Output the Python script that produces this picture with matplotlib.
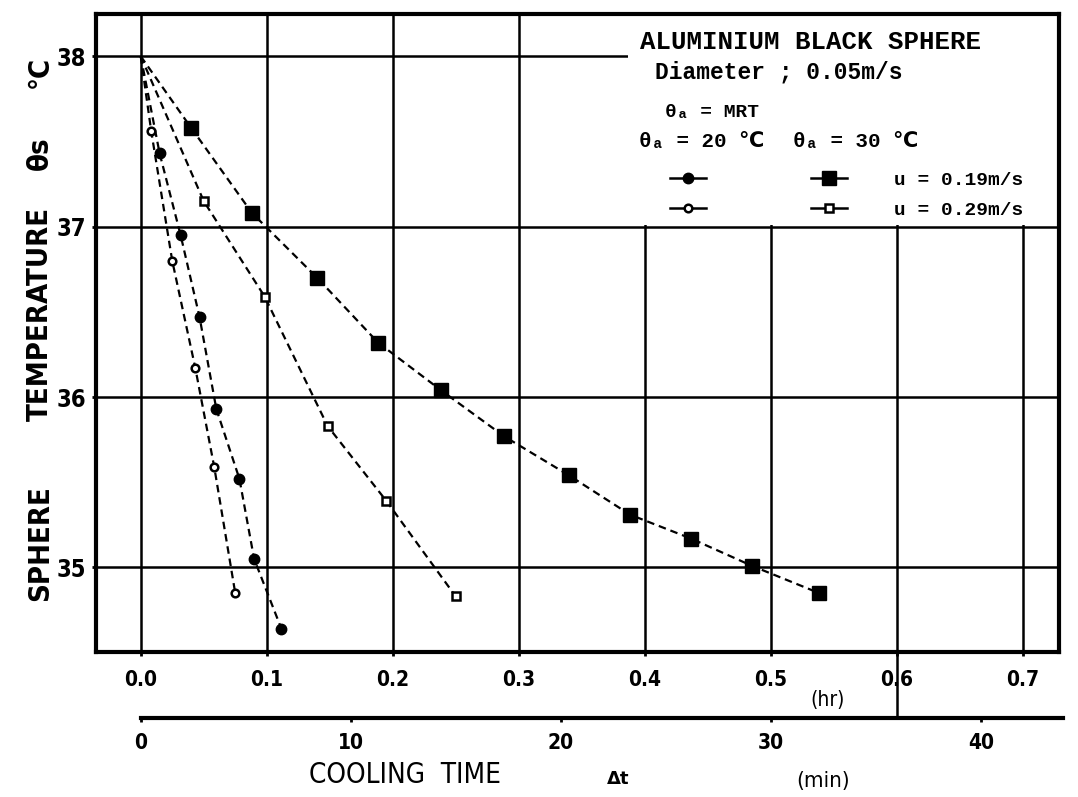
import numpy as np
import matplotlib
matplotlib.use("Agg")
import matplotlib.pyplot as plt
from matplotlib.font_manager import FontProperties
from matplotlib.lines import Line2D
from matplotlib.patches import Rectangle

# ===============================
# DATA  (cooling time in minutes, sphere temperature in deg C)
# ===============================
START_MIN = 0.0
START_TEMP = 38.0

# theta_a = 30 C, u = 0.19 m/s  (filled squares)
sq_fill_min = [2.4, 5.3, 8.4, 11.3, 14.3, 17.3, 20.4, 23.3, 26.2, 29.1, 32.3]
sq_fill_temp = [37.58, 37.08, 36.70, 36.32, 36.04, 35.77, 35.54, 35.31, 35.17, 35.01, 34.85]

# theta_a = 30 C, u = 0.29 m/s  (open squares)
sq_open_min = [3.0, 5.9, 8.9, 11.7, 15.0]
sq_open_temp = [37.15, 36.59, 35.83, 35.39, 34.83]

# theta_a = 20 C, u = 0.19 m/s  (filled circles)
ci_fill_min = [0.9, 1.9, 2.8, 3.6, 4.7, 5.4, 6.7]
ci_fill_temp = [37.43, 36.95, 36.47, 35.93, 35.52, 35.05, 34.64]

# theta_a = 20 C, u = 0.29 m/s  (open circles)
ci_open_min = [0.5, 1.5, 2.6, 3.5, 4.5]
ci_open_temp = [37.56, 36.80, 36.17, 35.59, 34.85]

hr_ticks = [0.0, 0.1, 0.2, 0.3, 0.4, 0.5, 0.6, 0.7]
temp_ticks = [35, 36, 37, 38]
min_ticks = [0, 10, 20, 30, 40]

# ===============================
# FIGURE
# ===============================
W, H = 1078, 797
fig = plt.figure(figsize=(W / 100, H / 100), dpi=100)
ax = fig.add_axes([96 / W, 1 - 652 / H, (1059 - 96) / W, (652 - 14) / H])

ax.set_xlim(-0.0355, 0.7288)
ax.set_ylim(34.504, 38.248)

ax.set_xticks(hr_ticks)
ax.set_xticklabels([f"{t:.1f}" for t in hr_ticks])
ax.set_yticks(temp_ticks)
ax.set_yticklabels([str(t) for t in temp_ticks])

ax.grid(True, color="black", linewidth=1.8)
ax.set_axisbelow(True)
for s in ax.spines.values():
    s.set_linewidth(3)

tick_font = dict(family="DejaVu Sans", weight="bold", stretch="condensed")
ax.tick_params(axis="x", length=3, width=2, pad=10, labelsize=15)
ax.tick_params(axis="y", length=3, width=2, pad=4, labelsize=17)
for lbl in ax.get_xticklabels() + ax.get_yticklabels():
    lbl.set_fontproperties(FontProperties(**tick_font, size=lbl.get_fontsize()))

# white panel behind the key, hiding the grid
ax.add_patch(Rectangle((0.387, 37.008), 0.7288 - 0.387, 38.248 - 37.008,
                       facecolor="white", edgecolor="none", zorder=1))

# ===============================
# SERIES
# ===============================
line_kw = dict(color="black", linewidth=1.6, linestyle=(0, (3.4, 2.2)),
               markevery=slice(1, None), zorder=3)

styles = {
    "ci_fill": dict(marker="o", markersize=7.5, markerfacecolor="black", markeredgecolor="black"),
    "ci_open": dict(marker="o", markersize=5.5, markerfacecolor="white", markeredgecolor="black",
                    markeredgewidth=1.8),
    "sq_fill": dict(marker="s", markersize=10, markerfacecolor="black", markeredgecolor="black"),
    "sq_open": dict(marker="s", markersize=6, markerfacecolor="white", markeredgecolor="black",
                    markeredgewidth=1.8),
}

series = [
    (ci_fill_min, ci_fill_temp, "ci_fill"),
    (ci_open_min, ci_open_temp, "ci_open"),
    (sq_fill_min, sq_fill_temp, "sq_fill"),
    (sq_open_min, sq_open_temp, "sq_open"),
]
for mins, temps, key in series:
    x = np.array([START_MIN] + mins) / 60.0
    y = np.array([START_TEMP] + temps)
    ax.plot(x, y, **line_kw, **styles[key])

# ===============================
# KEY
# ===============================
mono = ["Liberation Mono", "DejaVu Sans"]
fig.text(640 / W, 1 - 42 / H, "ALUMINIUM BLACK SPHERE", family=mono, weight="bold",
         fontsize=18.5, va="center", ha="left")
fig.text(655 / W, 1 - 72 / H, "Diameter ; 0.05m/s", family=mono, weight="bold",
         fontsize=16.5, va="center", ha="left")
fig.text(665 / W, 1 - 113 / H, "θₐ = MRT", family=mono, weight="bold",
         fontsize=14, va="center", ha="left")
fig.text(639 / W, 1 - 142 / H, "θₐ = 20 ℃", family=mono, weight="bold",
         fontsize=15, va="center", ha="left")
fig.text(793 / W, 1 - 142 / H, "θₐ = 30 ℃", family=mono, weight="bold",
         fontsize=15, va="center", ha="left")

handles = [
    Line2D([], [], color="black", linewidth=1.8, **styles["ci_fill"]),
    Line2D([], [], color="black", linewidth=1.8, **styles["ci_open"]),
    Line2D([], [], color="black", linewidth=1.8, **styles["sq_fill"]),
    Line2D([], [], color="black", linewidth=1.8, **styles["sq_open"]),
]
labels = ["", "", "u = 0.19m/s", "u = 0.29m/s"]
leg = ax.legend(handles, labels, ncol=2, frameon=False, loc="upper left",
                bbox_to_anchor=(670 / W, 1 - 171 / H), bbox_transform=fig.transFigure,
                prop=dict(family="Liberation Mono", weight="bold", size=14),
                handlelength=1.85, handletextpad=2.4, columnspacing=3.0,
                labelspacing=0.66, borderpad=0, borderaxespad=0)
leg.set_zorder(5)

# ===============================
# MINUTES AXIS
# ===============================
sec = ax.secondary_xaxis(-0.1034, functions=(lambda h: h * 60.0, lambda m: m / 60.0))
sec.set_xticks(min_ticks)
sec.set_xticklabels([str(m) for m in min_ticks])
sec.spines["bottom"].set_linewidth(3)
sec.spines["bottom"].set_bounds(0, 43.9)
sec.tick_params(axis="x", length=3, width=2, pad=8, labelsize=15)
for lbl in sec.get_xticklabels():
    lbl.set_fontproperties(FontProperties(**tick_font, size=15))

# 0.6 hr grid line carried down to the minutes scale
ax.axvline(0.6, ymin=-0.1034, ymax=0, color="black", linewidth=1.8, clip_on=False)

# ===============================
# AXIS TITLES
# ===============================
ylab = dict(rotation=90, weight="bold", family="DejaVu Sans", stretch="condensed",
            fontsize=21, va="center", ha="center")
fig.text(40 / W, 1 - 543 / H, "SPHERE", **ylab)
fig.text(40 / W, 1 - 314 / H, "TEMPERATURE", **ylab)
fig.text(40 / W, 1 - 153 / H, "θs", **ylab)
fig.text(40 / W, 1 - 72 / H, "°C", **ylab)

fig.text(405 / W, 1 - 775 / H, "COOLING  TIME", family="DejaVu Sans", stretch="condensed",
         fontsize=20, va="center", ha="center")
fig.text(618 / W, 1 - 779 / H, "Δt", family="DejaVu Sans", weight="bold", fontsize=13,
         va="center", ha="center")
fig.text(823 / W, 1 - 781 / H, "(min)", family="DejaVu Sans", stretch="condensed",
         fontsize=16, va="center", ha="center")
fig.text(828 / W, 1 - 700 / H, "(hr)", family="DejaVu Sans", stretch="condensed",
         fontsize=15, va="center", ha="center")

fig.savefig("out.png", dpi=100)
